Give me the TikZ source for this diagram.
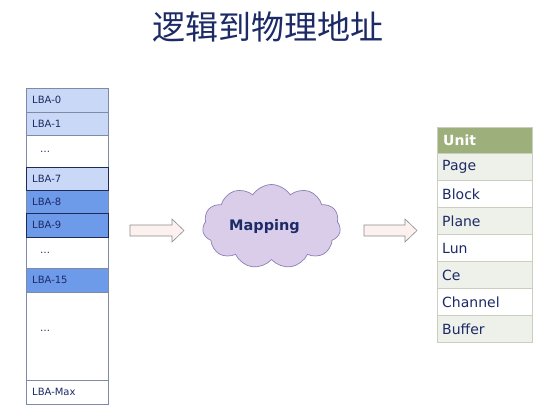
\documentclass[tikz,border=0pt]{standalone}
\usepackage{fontspec}
\setmainfont{DejaVu Sans}
\newfontfamily\cjkfont{Noto Sans CJK SC}
\usetikzlibrary{shapes.symbols}
\definecolor{navy}{HTML}{1C2A66}
\definecolor{lblue}{HTML}{C8D8F6}
\definecolor{mblue}{HTML}{6E9AEA}
\definecolor{cellborder}{HTML}{7F8AA6}
\definecolor{darkb}{HTML}{1E2B55}
\definecolor{hdr}{HTML}{9DAF7B}
\definecolor{rowg}{HTML}{EEF0EA}
\definecolor{tline}{HTML}{C9CEC0}
\definecolor{cloudf}{HTML}{D9CDE9}
\definecolor{cloudd}{HTML}{8D7FB5}
\definecolor{arrf}{HTML}{FDF1EF}
\definecolor{arrd}{HTML}{8C8C8C}
\tikzset{
  x=1pt,y=-1pt,
  cellbox/.style={draw=cellborder,line width=0.6pt},
  selbox/.style={draw=darkb,line width=0.9pt},
  lbatxt/.style={anchor=west,font=\fontsize{10}{12}\selectfont,text=navy,inner sep=0pt},
  unitrow/.style={draw=tline,line width=0.6pt,anchor=north west,minimum width=95pt,
    minimum height=27pt,inner sep=0pt},
  unittxt/.style={anchor=west,font=\fontsize{14}{16}\selectfont,text=navy,inner sep=0pt},
  fatarrow/.style={draw=arrd,fill=arrf,line width=0.6pt,line join=miter}
}
\begin{document}
\begin{tikzpicture}
\useasboundingbox (0,0) rectangle (552,420);
\node[font=\cjkfont\fontsize{33}{36}\selectfont,text=navy] (title) at (267.5,26.5) {逻辑到物理地址};
% left column cells
\path[cellbox,fill=lblue] (26,88) rectangle (108,112);
\path[cellbox,fill=lblue] (26,112) rectangle (108,135);
\path[cellbox,fill=white] (26,135) rectangle (108,167);
\path[cellbox,fill=mblue] (26,190) rectangle (108,213);
\path[cellbox,fill=white] (26,237) rectangle (108,268);
\path[cellbox,fill=mblue] (26,268) rectangle (108,292);
\path[cellbox,fill=white] (26,292) rectangle (108,380);
\path[cellbox,fill=white] (26,380) rectangle (108,404);
\path[selbox,fill=lblue] (26,167) rectangle (108,190);
\path[selbox,fill=mblue] (26,213) rectangle (108,237);
\node[lbatxt] (l0) at (32,100) {LBA-0};
\node[lbatxt] (l1) at (32,123.5) {LBA-1};
\node[lbatxt] (d1) at (40,152) {\ldots};
\node[lbatxt] (l7) at (32,178.5) {LBA-7};
\node[lbatxt] (l8) at (32,201.5) {LBA-8};
\node[lbatxt] (l9) at (32,225) {LBA-9};
\node[lbatxt] (d2) at (40,253) {\ldots};
\node[lbatxt] (l15) at (32,280) {LBA-15};
\node[lbatxt] (d3) at (40,331) {\ldots};
\node[lbatxt] (lmax) at (32,392) {LBA-Max};
% arrows
\path[fatarrow] (130,225) -- (172,225) -- (172,219) -- (184,230.5) -- (172,242) -- (172,236) -- (130,236) -- cycle;
\path[fatarrow] (364,225) -- (405,225) -- (405,219) -- (417,230.5) -- (405,242) -- (405,236) -- (364,236) -- cycle;
% cloud
\node[cloud,cloud puffs=11,cloud puff arc=115,aspect=1.7,draw=cloudd,fill=cloudf,line width=0.7pt,
  minimum width=138pt,minimum height=84pt,inner sep=0pt] (map) at (271.5,226.5) {};
\node[font=\bfseries\fontsize{14.5}{17}\selectfont,text=navy,inner sep=0pt] (maptxt) at (264.5,227) {Mapping};
% table
\node[unitrow,fill=hdr,minimum height=26pt] (h) at (437,127) {};
\node[unittxt,text=white,font=\bfseries\fontsize{14}{16}\selectfont] (ht) at (443,140) {Unit};
\node[unitrow,fill=rowg] (r1) at (437,153) {};
\node[unitrow,fill=white] (r2) at (437,180) {};
\node[unitrow,fill=rowg] (r3) at (437,207) {};
\node[unitrow,fill=white] (r4) at (437,234) {};
\node[unitrow,fill=rowg] (r5) at (437,261) {};
\node[unitrow,fill=white] (r6) at (437,288) {};
\node[unitrow,fill=rowg] (r7) at (437,315) {};
\node[unittxt] (t1) at (442,167) {Page};
\node[unittxt] (t2) at (442,194) {Block};
\node[unittxt] (t3) at (442,221) {Plane};
\node[unittxt] (t4) at (442,248) {Lun};
\node[unittxt] (t5) at (442,275) {Ce};
\node[unittxt] (t6) at (442,302) {Channel};
\node[unittxt] (t7) at (442,329) {Buffer};
\end{tikzpicture}
\end{document}
